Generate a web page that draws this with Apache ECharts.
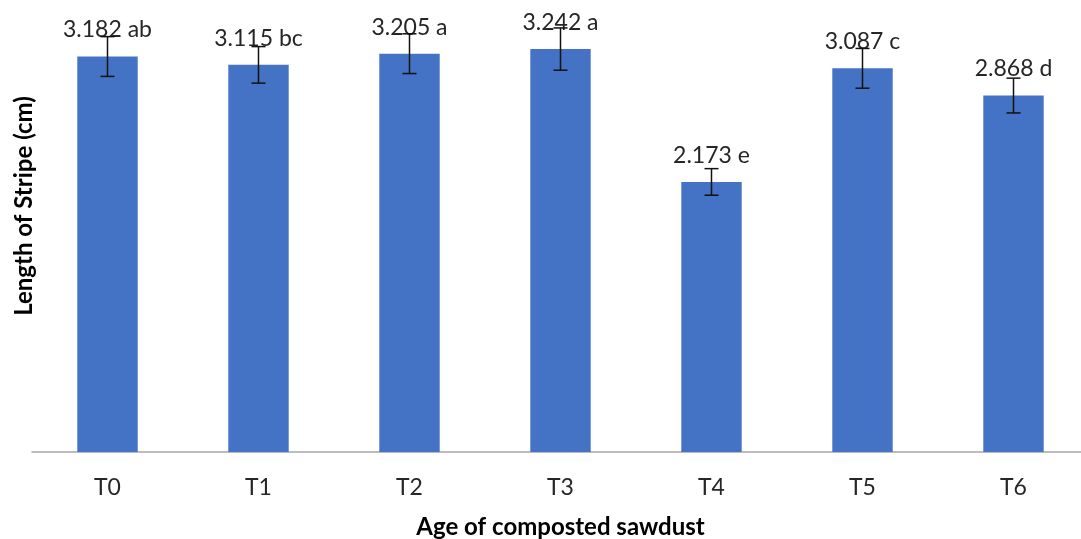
<!DOCTYPE html>
<html>
<head>
<meta charset="utf-8">
<title>Length of Stripe</title>
<script src="https://cdn.jsdelivr.net/npm/echarts@6/dist/echarts.min.js"></script>
<style>
  html, body { margin: 0; padding: 0; background: #fff; }
  #chart { width: 1081px; height: 539px; }
</style>
</head>
<body>
<div id="chart"></div>
<script>
// Treatments and measured stripe length (cm)
const categories = ['T0', 'T1', 'T2', 'T3', 'T4', 'T5', 'T6'];
const meanLength = [3.182, 3.115, 3.205, 3.242, 2.173, 3.087, 2.868];
const errorSize = [0.16, 0.147, 0.16, 0.17, 0.107, 0.16, 0.14];
const groupLetters = ['ab', 'bc', 'a', 'a', 'e', 'c', 'd'];

const FONT = 'Lato, "Open Sans", sans-serif';

const chart = echarts.init(document.getElementById('chart'), null, { renderer: 'canvas' });

const errorData = meanLength.map((v, i) => [i, v - errorSize[i], v + errorSize[i]]);

chart.setOption({
  animation: false,
  backgroundColor: '#ffffff',
  grid: {
    left: 32, width: 1057, top: 17, height: 435,
    containLabel: false,
    outerBoundsMode: 'none'
  },
  xAxis: {
    type: 'category',
    data: categories,
    name: 'Age of composted sawdust',
    nameLocation: 'middle',
    nameGap: 63,
    nameTextStyle: { fontFamily: FONT, fontSize: 24, fontWeight: 'bold', color: '#000' },
    axisLine: { lineStyle: { color: '#a6a6a6', width: 1.5 } },
    axisTick: { show: false },
    axisLabel: { fontFamily: FONT, fontSize: 23, color: '#262626', margin: 24 }
  },
  yAxis: {
    type: 'value',
    min: 0,
    max: 3.5,
    show: false
  },
  graphic: [{
    // vertical axis title, reading bottom to top
    type: 'text',
    x: 24,
    y: 206,
    rotation: Math.PI / 2,
    style: {
      text: 'Length of Stripe (cm)',
      fontFamily: FONT,
      fontSize: 24,
      fontWeight: 'bold',
      fill: '#000',
      x: 0,
      y: 0,
      align: 'center',
      verticalAlign: 'middle'
    }
  }],
  series: [
    {
      type: 'bar',
      data: meanLength,
      barWidth: '40%',
      itemStyle: { color: '#4472C4' },
      label: {
        show: true,
        position: 'top',
        distance: 15,
        fontFamily: FONT,
        fontSize: 23,
        color: '#262626',
        formatter: p => p.value.toFixed(3) + ' ' + groupLetters[p.dataIndex]
      },
      z: 2
    },
    {
      type: 'custom',
      data: errorData,
      z: 5,
      renderItem: (params, api) => {
        const x = api.value(0);
        const lo = api.coord([x, api.value(1)]);
        const hi = api.coord([x, api.value(2)]);
        const cap = 7;
        const style = { stroke: '#111', lineWidth: 1.5 };
        return {
          type: 'group',
          children: [
            { type: 'line', shape: { x1: lo[0], y1: lo[1], x2: hi[0], y2: hi[1] }, style },
            { type: 'line', shape: { x1: lo[0] - cap, y1: lo[1], x2: lo[0] + cap, y2: lo[1] }, style },
            { type: 'line', shape: { x1: hi[0] - cap, y1: hi[1], x2: hi[0] + cap, y2: hi[1] }, style }
          ]
        };
      }
    }
  ]
});
</script>
</body>
</html>
